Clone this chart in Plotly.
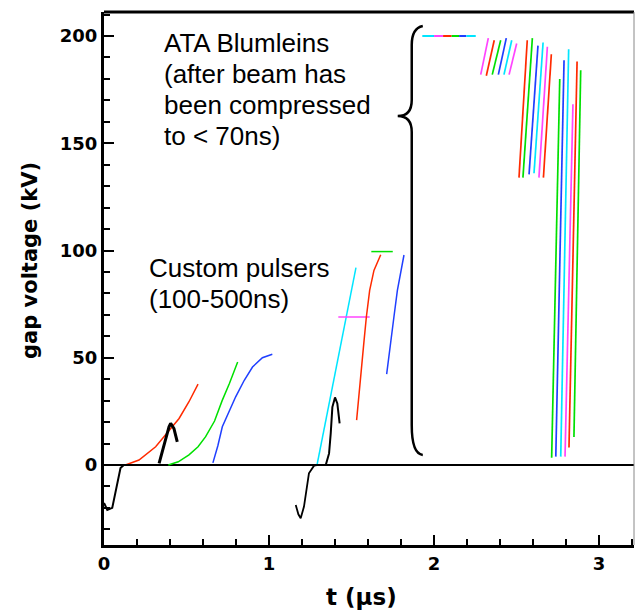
import plotly.graph_objects as go

# colours used by the scope traces
RED = "#ff2a00"
GREEN = "#00e000"
BLUE = "#1f3fff"
CYAN = "#00e5ff"
MAGENTA = "#ff44ff"

# --- custom pulsers, first group (t in us, V in kV) ---
t_neg1 = [0.0, 0.02, 0.05, 0.08, 0.10, 0.12, 0.33]
v_neg1 = [-17.7, -21.0, -20.0, -8.0, -1.4, 0.0, 0.0]
t_beam1 = [0.334, 0.35, 0.37, 0.394, 0.404, 0.424, 0.444]
v_beam1 = [0.8, 5.0, 11.0, 17.8, 19.4, 17.0, 10.8]
t_red1 = [0.13, 0.212, 0.313, 0.394, 0.455, 0.515, 0.57]
v_red1 = [0.0, 2.3, 8.5, 16.3, 21.7, 29.5, 37.7]
t_green1 = [0.39, 0.45, 0.515, 0.57, 0.616, 0.67, 0.716, 0.76, 0.81]
v_green1 = [0.0, 1.5, 4.7, 8.5, 13.2, 20.5, 30.0, 38.0, 48.0]
t_blue1 = [0.66, 0.69, 0.717, 0.76, 0.798, 0.85, 0.90, 0.96, 1.02]
v_blue1 = [1.0, 9.0, 17.8, 25.5, 31.8, 39.5, 45.7, 50.0, 51.6]

# --- custom pulsers, second group ---
t_neg2 = [1.162, 1.178, 1.192, 1.212, 1.242, 1.273, 1.29, 1.344]
v_neg2 = [-18.6, -23.0, -24.8, -19.4, -3.9, -0.3, 0.0, 0.0]
t_beam2 = [1.344, 1.364, 1.374, 1.384, 1.40, 1.414, 1.428]
v_beam2 = [0.0, 5.4, 14.7, 27.0, 31.5, 28.7, 19.4]
t_cyan2 = [1.291, 1.41, 1.527]
v_cyan2 = [0.0, 46.5, 92.0]
t_mag_flat = [1.42, 1.61]
v_mag_flat = [69.0, 69.0]
t_green_flat = [1.62, 1.75]
v_green_flat = [99.5, 99.5]
t_red2 = [1.531, 1.555, 1.576, 1.59, 1.61, 1.636, 1.677]
v_red2 = [20.9, 42.6, 58.0, 69.0, 81.4, 90.7, 98.0]
t_blue2 = [1.713, 1.737, 1.757, 1.778, 1.818]
v_blue2 = [42.4, 58.1, 69.0, 81.4, 97.9]

# --- ATA Blumleins ---
t_flat_edges = [1.929, 2.0, 2.055, 2.107, 2.152, 2.196, 2.253]
v_flat = 200.0
flat_colors = [CYAN, MAGENTA, RED, GREEN, BLUE, CYAN]

a_t0 = [2.283, 2.317, 2.353, 2.390, 2.424, 2.455]
a_v0 = [182.0, 181.5, 182.0, 182.0, 182.0, 182.0]
a_t1 = [2.329, 2.365, 2.404, 2.438, 2.471, 2.501]
a_v1 = [199.0, 198.0, 198.0, 199.0, 198.0, 196.5]
a_colors = [MAGENTA, RED, GREEN, BLUE, CYAN, MAGENTA]

b_t0 = [2.515, 2.539, 2.576, 2.606, 2.636, 2.663]
b_v0 = [134.0, 134.0, 135.5, 136.0, 134.0, 134.0]
b_t1 = [2.565, 2.596, 2.630, 2.661, 2.687, 2.711]
b_v1 = [198.0, 199.0, 195.5, 197.0, 195.0, 191.5]
b_colors = [RED, GREEN, BLUE, CYAN, MAGENTA, RED]

c_t0 = [2.713, 2.738, 2.768, 2.794, 2.818, 2.848]
c_v0 = [3.4, 3.9, 3.9, 3.9, 8.2, 13.1]
c_t1 = [2.762, 2.788, 2.816, 2.842, 2.867, 2.889]
c_v1 = [180.0, 188.7, 193.8, 168.2, 188.1, 184.0]
c_colors = [GREEN, BLUE, CYAN, MAGENTA, RED, GREEN]

# curly brace key points (t, V)
brace_t = [1.932, 1.865, 1.865, 1.865, 1.865, 1.780, 1.865, 1.865, 1.865, 1.865, 1.932]
brace_v = [204.7, 203.7, 195.8, 170.2, 162.7, 162.7, 162.7, 155.2, 18.6, 5.1, 4.7]

fig = go.Figure()


def line(t, v, color, width=1.5):
    fig.add_trace(go.Scatter(x=t, y=v, mode="lines", showlegend=False,
                             line=dict(color=color, width=width), hoverinfo="skip"))


line(t_red1, v_red1, RED)
line(t_green1, v_green1, GREEN)
line(t_blue1, v_blue1, BLUE)
line(t_neg1, v_neg1, "black", 2)
line(t_beam1, v_beam1, "black", 3)

line(t_cyan2, v_cyan2, CYAN)
line(t_mag_flat, v_mag_flat, MAGENTA)
line(t_green_flat, v_green_flat, GREEN)
line(t_red2, v_red2, RED)
line(t_blue2, v_blue2, BLUE)
line(t_neg2, v_neg2, "black", 1.8)
line(t_beam2, v_beam2, "black", 2)

for i, c in enumerate(flat_colors):
    line([t_flat_edges[i], t_flat_edges[i + 1]], [v_flat, v_flat], c, 2)

for t0, v0, t1, v1, cols in [(a_t0, a_v0, a_t1, a_v1, a_colors),
                             (b_t0, b_v0, b_t1, b_v1, b_colors),
                             (c_t0, c_v0, c_t1, c_v1, c_colors)]:
    for i, c in enumerate(cols):
        line([t0[i], t1[i]], [v0[i], v1[i]], c, 1.7)

bt, bv = brace_t, brace_v
brace_path = (f"M {bt[0]},{bv[0]} Q {bt[1]},{bv[1]} {bt[2]},{bv[2]} "
              f"L {bt[3]},{bv[3]} Q {bt[4]},{bv[4]} {bt[5]},{bv[5]} "
              f"Q {bt[6]},{bv[6]} {bt[7]},{bv[7]} "
              f"L {bt[8]},{bv[8]} Q {bt[9]},{bv[9]} {bt[10]},{bv[10]}")
fig.add_shape(type="path", path=brace_path, xref="x", yref="y",
              line=dict(color="black", width=2.5))

# frame: thick top, thin grey right
fig.add_shape(type="line", xref="paper", yref="paper", x0=0, x1=1, y0=1, y1=1,
              line=dict(color="black", width=3))
fig.add_shape(type="line", xref="paper", yref="paper", x0=1, x1=1, y0=0, y1=1,
              line=dict(color="#888888", width=1))

text_font = dict(family="Liberation Sans, Arial", size=26, color="black")
ata_lines = ["ATA Blumleins", "(after beam has", "been compressed", "to < 70ns)"]
ata_v = [196.8, 182.4, 167.9, 153.4]
for txt, v in zip(ata_lines, ata_v):
    fig.add_annotation(x=0.35, y=v, text=txt, showarrow=False, xanchor="left",
                       yanchor="middle", font=text_font)
pulser_lines = ["Custom pulsers", "(100-500ns)"]
pulser_v = [91.7, 77.3]
for txt, v in zip(pulser_lines, pulser_v):
    fig.add_annotation(x=0.259, y=v, text=txt, showarrow=False, xanchor="left",
                       yanchor="middle", font=text_font)

# axis titles, placed in paper units (plot area is 530 x 533 px)
fig.add_annotation(text="<b>gap voltage (kV)</b>", showarrow=False, textangle=-90,
                   font=dict(family="DejaVu Sans", size=21, color="black"),
                   xref="paper", yref="paper", x=(30 - 104) / 530, y=(545 - 261) / 533,
                   xanchor="center", yanchor="middle")
fig.add_annotation(text="<b>t (µs)</b>", showarrow=False,
                   font=dict(family="DejaVu Sans", size=23, color="black"),
                   xref="paper", yref="paper", x=(361 - 104) / 530, y=-(597 - 545) / 533,
                   xanchor="center", yanchor="middle")

tick_font = dict(family="DejaVu Sans", size=18, color="black", weight="bold")
fig.update_xaxes(range=[0, 3.212], showline=True, linewidth=3, linecolor="black",
                 tickmode="linear", tick0=0, dtick=1,
                 ticks="inside", ticklen=10, tickwidth=2, tickcolor="black",
                 tickfont=tick_font,
                 minor=dict(ticks="inside", ticklen=6, tickwidth=1.5, tickcolor="black", dtick=0.2, tick0=0),
                 showgrid=False, zeroline=False)
fig.update_yaxes(range=[-37.3, 211.2], showline=True, linewidth=3, linecolor="black",
                 tickmode="linear", tick0=0, dtick=50,
                 ticks="inside", ticklen=10, tickwidth=2, tickcolor="black",
                 tickfont=tick_font,
                 minor=dict(ticks="inside", ticklen=6, tickwidth=1.5, tickcolor="black", dtick=10, tick0=0),
                 showgrid=False, zeroline=True, zerolinecolor="black", zerolinewidth=1.5)
fig.update_layout(width=635, height=611, margin=dict(l=104, r=1, t=12, b=66),
                  plot_bgcolor="white", paper_bgcolor="white")

fig.write_html("out.html", config={"displayModeBar": False},
               post_script="document.body.style.margin = '0';")
